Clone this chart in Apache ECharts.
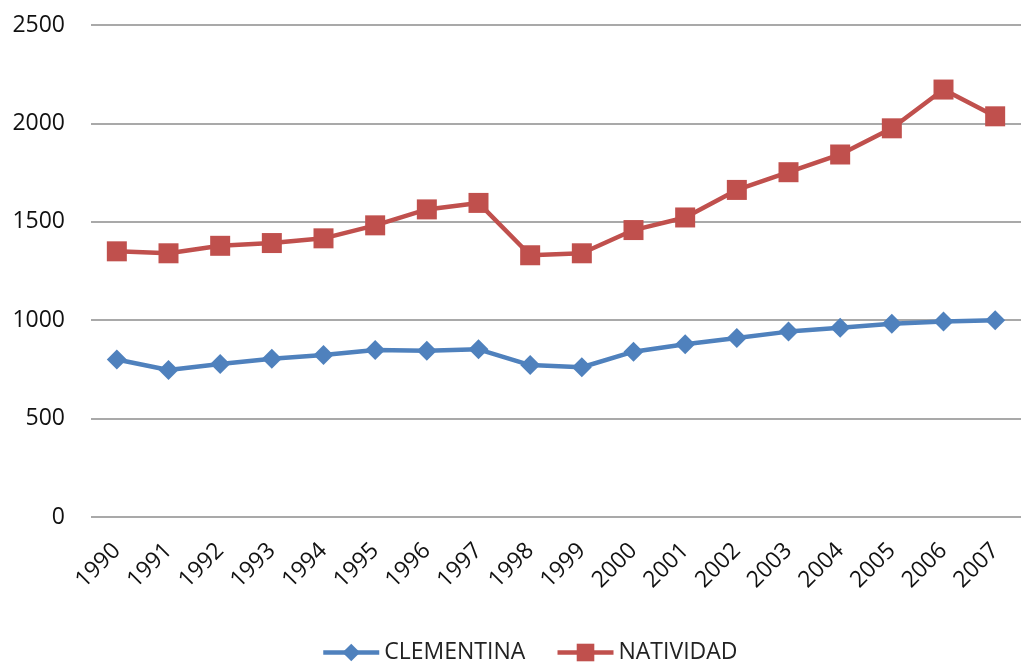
<!DOCTYPE html>
<html>
<head>
<meta charset="utf-8">
<script src="https://cdn.jsdelivr.net/npm/echarts@6/dist/echarts.min.js"></script>
<style>
  html, body { margin: 0; padding: 0; background: #fff; }
  #chart { width: 1021px; height: 669px; }
</style>
</head>
<body>
<div id="chart"></div>
<script>
var years = ["1990","1991","1992","1993","1994","1995","1996","1997","1998","1999",
             "2000","2001","2002","2003","2004","2005","2006","2007"];
var clementina = [800, 747, 777, 804, 823, 849, 845, 852, 772, 761, 840, 878, 910, 942, 962, 982, 993, 1000];
var natividad = [1350, 1340, 1378, 1392, 1416, 1482, 1563, 1596, 1330, 1340, 1458, 1522, 1662, 1752, 1842, 1975, 2172, 2036];
var yTicks = [0, 500, 1000, 1500, 2000, 2500];

var font = "'Open Sans', 'Noto Sans', sans-serif";

window.onload = function(){
  var myChart = echarts.init(document.querySelector("#chart"));
  myChart.setOption({
    animation: false,
    grid: { left: 91, right: 0, top: 25, bottom: 152, containLabel: false },
    legend: {
      bottom: 0,
      left: 316,
      itemWidth: 56,
      itemHeight: 22,
      itemGap: 30,
      textStyle: { fontFamily: font, fontSize: 23, color: "#222" },
      lineStyle: { width: 4.5 },
      data: ["CLEMENTINA", "NATIVIDAD"]
    },
    xAxis: {
      type: "category",
      data: years,
      boundaryGap: true,
      axisLine: { show: false },
      axisTick: { show: false },
      axisLabel: { rotate: 45, fontFamily: font, fontSize: 23, color: "#111", margin: 30 }
    },
    yAxis: {
      type: "value",
      min: yTicks[0],
      max: yTicks[yTicks.length - 1],
      interval: 500,
      axisLine: { show: false },
      axisTick: { show: false },
      axisLabel: {
        fontFamily: font, fontSize: 23, color: "#111", margin: 26,
        formatter: function(v){ return String(v); }
      },
      splitLine: { lineStyle: { color: "#8c8c8c", width: 1.5 } }
    },
    series: [
      {
        name: "CLEMENTINA",
        type: "line",
        data: clementina,
        symbol: "diamond",
        symbolSize: 20,
        color: "#4F81BD",
        lineStyle: { width: 4.5 }
      },
      {
        name: "NATIVIDAD",
        type: "line",
        data: natividad,
        symbol: "rect",
        symbolSize: 20,
        color: "#C0504D",
        lineStyle: { width: 4.5 }
      }
    ]
  });
};
</script>
</body>
</html>
